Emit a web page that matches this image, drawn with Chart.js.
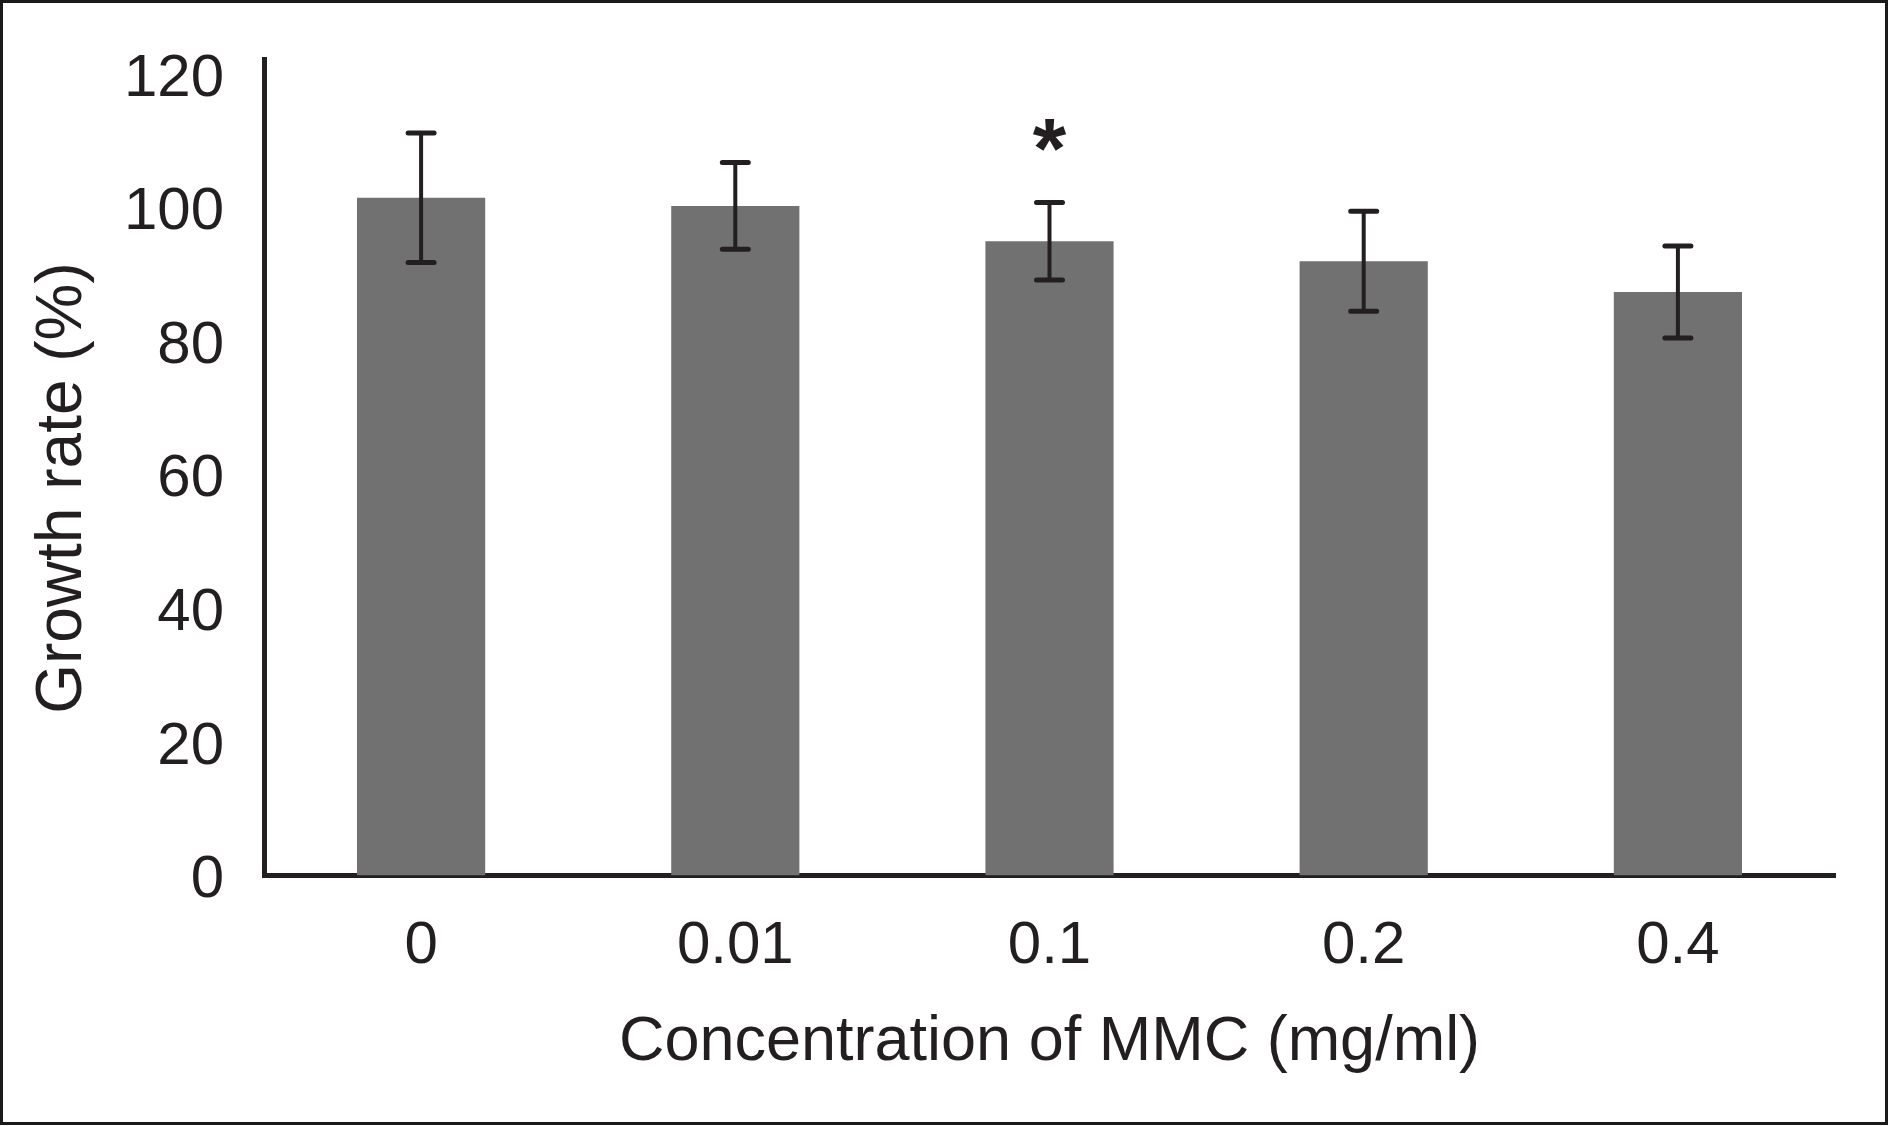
<!DOCTYPE html>
<html>
<head>
<meta charset="utf-8">
<script src="https://cdn.jsdelivr.net/npm/chart.js@4"></script>
<style>
  html, body { margin: 0; padding: 0; background: #ffffff; }
  #wrap { width: 1890px; height: 1126px; position: relative; }
</style>
</head>
<body>
<div id="wrap"><canvas id="c" width="1890" height="1126"></canvas></div>
<script>
// ---- data ----
const categories = ['0', '0.01', '0.1', '0.2', '0.4'];
const growthRate = [101.5, 100.3, 95.0, 92.0, 87.4];
const errorSD = [9.7, 6.5, 5.8, 7.5, 6.9];
const significance = ['', '', '*', '', ''];
const yTicks = [0, 20, 40, 60, 80, 100, 120];
const xTitle = 'Concentration of MMC (mg/ml)';
const yTitle = 'Growth rate (%)';

const INK = '#231f20';
const FONT = "'Liberation Sans', Arial, Helvetica, sans-serif";

const errorBarPlugin = {
  id: 'errorBars',
  afterDatasetsDraw(chart) {
    const ctx = chart.ctx;
    const meta = chart.getDatasetMeta(0);
    const y = chart.scales.y;
    ctx.save();
    ctx.strokeStyle = INK;
    ctx.fillStyle = INK;
    meta.data.forEach((bar, i) => {
      const v = growthRate[i], e = errorSD[i];
      const top = y.getPixelForValue(v + e);
      const bot = y.getPixelForValue(v - e);
      const x = bar.x;
      ctx.lineCap = 'butt';
      ctx.lineWidth = 4;
      ctx.beginPath();
      ctx.moveTo(x, top); ctx.lineTo(x, bot);
      ctx.stroke();
      ctx.lineCap = 'round';
      ctx.lineWidth = 5;
      ctx.beginPath();
      ctx.moveTo(x - 13, top); ctx.lineTo(x + 13, top);
      ctx.moveTo(x - 13, bot); ctx.lineTo(x + 13, bot);
      ctx.stroke();
      if (significance[i]) {
        ctx.font = 'bold 86px ' + FONT;
        ctx.textAlign = 'center';
        ctx.textBaseline = 'alphabetic';
        ctx.fillText(significance[i], x, top - 25);
      }
    });
    ctx.restore();
  }
};

const yTitlePlugin = {
  id: 'yTitle',
  afterDraw(chart) {
    const ctx = chart.ctx;
    ctx.save();
    ctx.translate(63, 488);
    ctx.rotate(-Math.PI / 2);
    ctx.font = '64px ' + FONT;
    ctx.fillStyle = INK;
    ctx.textAlign = 'center';
    ctx.textBaseline = 'middle';
    ctx.fillText(yTitle, 0, 0);
    ctx.restore();
  }
};

const framePlugin = {
  id: 'frame',
  afterDraw(chart) {
    const ctx = chart.ctx;
    ctx.save();
    ctx.strokeStyle = '#1a1a1a';
    ctx.lineWidth = 3;
    ctx.strokeRect(1.5, 1.5, 1885, 1122);
    ctx.restore();
  }
};

new Chart(document.getElementById('c'), {
  type: 'bar',
  data: {
    labels: categories,
    datasets: [{
      data: growthRate,
      backgroundColor: '#717171',
      borderWidth: 0,
      barPercentage: 0.408,
      categoryPercentage: 1.0
    }]
  },
  options: {
    responsive: false,
    animation: false,
    devicePixelRatio: 1,
    layout: { padding: { left: 0, top: 59, right: 55, bottom: 0 } },
    plugins: { legend: { display: false }, tooltip: { enabled: false }, title: { display: false } },
    scales: {
      x: {
        grid: { display: false, drawTicks: false },
        border: { display: true, color: INK, width: 5 },
        ticks: { color: INK, font: { family: FONT, size: 60 }, padding: 35, maxRotation: 0, autoSkip: false },
        title: { display: true, text: xTitle, color: INK, font: { family: FONT, size: 63 }, padding: { top: 0, bottom: 46 } },
        afterFit(scale) {
          scale.height = 250.5;
          scale.paddingLeft = 0; scale.paddingRight = 0;
        }
      },
      y: {
        min: 0,
        max: 122.3,
        grid: { display: false, drawTicks: false },
        border: { display: true, color: INK, width: 5 },
        afterBuildTicks(scale) { scale.ticks = yTicks.map(v => ({ value: v })); },
        ticks: { color: INK, font: { family: FONT, size: 60 }, padding: 40, labelOffset: 5 },
        title: { display: false },
        afterFit(scale) {
          scale.width = 264;
          scale.paddingTop = 0; scale.paddingBottom = 0;
        }
      }
    }
  },
  plugins: [errorBarPlugin, yTitlePlugin, framePlugin]
});
</script>
</body>
</html>
